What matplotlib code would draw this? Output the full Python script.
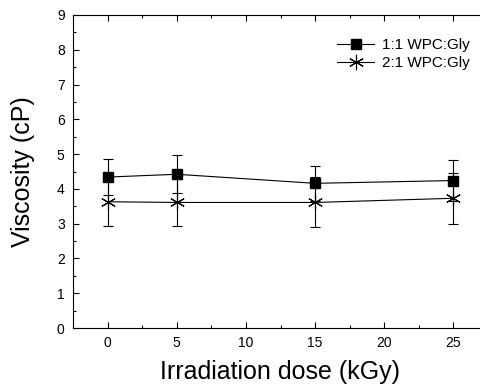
import matplotlib
matplotlib.use("Agg")
import matplotlib.pyplot as plt
from matplotlib.ticker import MultipleLocator
from matplotlib.lines import Line2D

plt.rcParams['font.family'] = ['Liberation Sans', 'DejaVu Sans']

dose = [0, 5, 15, 25]
visc_11 = [4.34, 4.42, 4.16, 4.24]
err_11 = [0.52, 0.55, 0.50, 0.59]
visc_21 = [3.63, 3.61, 3.61, 3.73]
err_21 = [0.69, 0.67, 0.72, 0.74]
labels = ['1:1 WPC:Gly', '2:1 WPC:Gly']

fig = plt.figure(figsize=(4.8, 3.88), dpi=100)
ax = fig.add_axes([73/480, 60/388, 415/480, 313/388])

sq = dict(marker='s', markersize=6.5)
ast = dict(marker=(6, 2, 0), markersize=11, markeredgewidth=0.8)

ax.errorbar(dose, visc_11, yerr=err_11, color='black', linewidth=0.8,
            elinewidth=0.8, capsize=3.5, capthick=0.8, **sq)
ax.errorbar(dose, visc_21, yerr=err_21, color='black', linewidth=0.8,
            elinewidth=0.8, capsize=3.5, capthick=0.8, **ast)

ax.set_xlim(-2.5, 27.5)
ax.set_ylim(0, 9)
ax.xaxis.set_major_locator(MultipleLocator(5))
ax.xaxis.set_minor_locator(MultipleLocator(2.5))
ax.yaxis.set_major_locator(MultipleLocator(1))
ax.yaxis.set_minor_locator(MultipleLocator(0.5))
ax.tick_params(which='both', direction='in', top=True, right=True, labelsize=10, width=0.8)
ax.tick_params(which='major', length=4, pad=6)
ax.tick_params(which='minor', length=2.5)
for s in ax.spines.values():
    s.set_linewidth(0.8)

ax.set_xlabel('Irradiation dose (kGy)', fontsize=18, labelpad=7)
ax.set_ylabel('Viscosity (cP)', fontsize=18, labelpad=16)

handles = [Line2D([], [], color='black', linewidth=0.8, **sq),
           Line2D([], [], color='black', linewidth=0.8, **ast)]
ax.legend(handles, labels, loc='upper left', bbox_to_anchor=(0.637, 0.925), frameon=False,
          fontsize=11, handlelength=2.4, handletextpad=0.5, labelspacing=0.25,
          borderaxespad=0, borderpad=0)

fig.savefig('out.png', dpi=100)
